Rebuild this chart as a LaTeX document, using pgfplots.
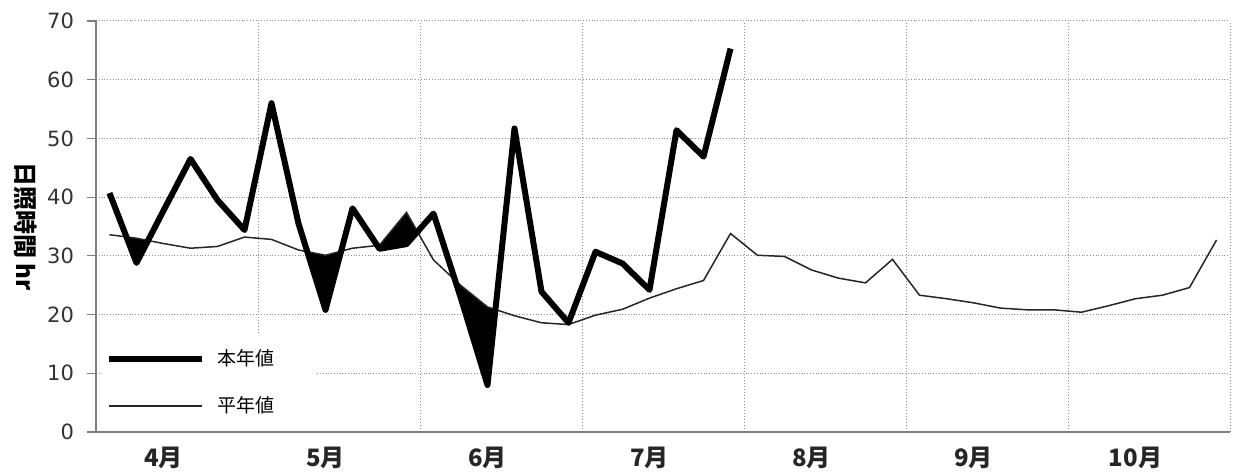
\documentclass[border=0pt]{standalone}
\usepackage{fontspec}
\setmainfont{DejaVu Sans}
\newfontfamily\jp{Noto Sans CJK JP}
\usepackage{pgfplots}
\pgfplotsset{compat=1.18}
\usepackage{pgfplotstable}
\usepgfplotslibrary{fillbetween}

\pgfplotstableread{
x y
0 40.7
1 28.8
2 37.7
3 46.5
4 39.5
5 34.4
6 56.0
7 35.5
8 20.8
9 38.1
10 31.2
11 32.0
12 37.2
13 23.0
14 8.0
15 51.7
16 23.9
17 18.6
18 30.7
19 28.7
20 24.2
21 51.4
22 46.9
23 65.3
}\thisyear

\pgfplotstableread{
x y
0 33.6
1 33.0
2 32.1
3 31.3
4 31.6
5 33.2
6 32.8
7 31.0
8 30.1
9 31.3
10 31.8
11 37.4
12 29.3
13 25.0
14 21.3
15 19.8
16 18.6
17 18.3
18 19.9
19 20.9
20 22.8
21 24.4
22 25.8
23 33.8
24 30.1
25 29.9
26 27.6
27 26.2
28 25.4
29 29.4
30 23.3
31 22.7
32 22.0
33 21.1
34 20.8
35 20.8
36 20.4
37 21.5
38 22.7
39 23.3
40 24.6
41 32.7
}\normal

\begin{document}
\begin{tikzpicture}
\begin{axis}[
  scale only axis, width=567pt, height=205.5pt,
  xmin=-0.5, xmax=41.5, ymin=0, ymax=70,
  ytick={0,10,...,70},
  xtick={2,8,14,20,26,32,38},
  xticklabels={4月,5月,6月,7月,8月,9月,10月},
  minor xtick={5.5,11.5,17.5,23.5,29.5,35.5,41.5},
  xminorgrids, ymajorgrids,
  grid style={densely dotted, black!45, line width=0.5pt},
  minor grid style={densely dotted, black!45, line width=0.5pt},
  axis x line*=bottom, axis y line*=left,
  axis line style={black!50, line width=0.7pt, -},
  xtick style={draw=none},
  minor tick length=0pt,
  ytick style={black!50, line width=0.6pt},
  tick align=outside, major tick length=4.5pt,
  /pgf/number format/assume math mode=true,
  yticklabel style={font=\fontsize{10.5}{12}\selectfont, text=black!80, xshift=-3pt},
  xticklabel style={font=\jp\bfseries\fontsize{12}{14}\selectfont, text=black!85, yshift=0.5pt},
  ylabel={\jp\bfseries 日照時間 hr},
  ylabel style={rotate=180, at={(axis description cs:-0.0625,0.5)}, anchor=center, font=\fontsize{12}{14}\selectfont},
  legend style={at={(axis description cs:0.0035,0.236)}, anchor=north west, draw=none, fill=white,
    inner xsep=3pt, inner ysep=5pt, font=\jp\fontsize{9.5}{10}\selectfont, row sep=10pt},
  legend image code/.code={\draw[#1] (0pt,0pt) -- (46.5pt,0pt);},
  legend cell align=left,
]
\addplot[draw=none, forget plot, name path=N1, restrict x to domain=0:23] table {\normal};
\addplot[draw=none, forget plot, name path=T1] table {\thisyear};
\addplot[black, forget plot] fill between[of=T1 and N1, split,
  every odd segment/.style={fill=black},
  every even segment/.style={fill opacity=0}];
\addplot[black!85, line width=0.75pt, forget plot] table {\normal};
\addplot[black, line width=3pt, line join=round, forget plot] table {\thisyear};
\addlegendimage{black, line width=3pt}
\addlegendentry{\hspace*{4pt}\makebox[44pt][l]{本年値}}
\addlegendimage{black!85, line width=0.75pt}
\addlegendentry{\hspace*{4pt}\makebox[44pt][l]{平年値}}
\end{axis}
\pgfresetboundingbox
\useasboundingbox (-48pt,-21.5pt) rectangle (569.5pt,216pt);
\end{tikzpicture}
\end{document}
